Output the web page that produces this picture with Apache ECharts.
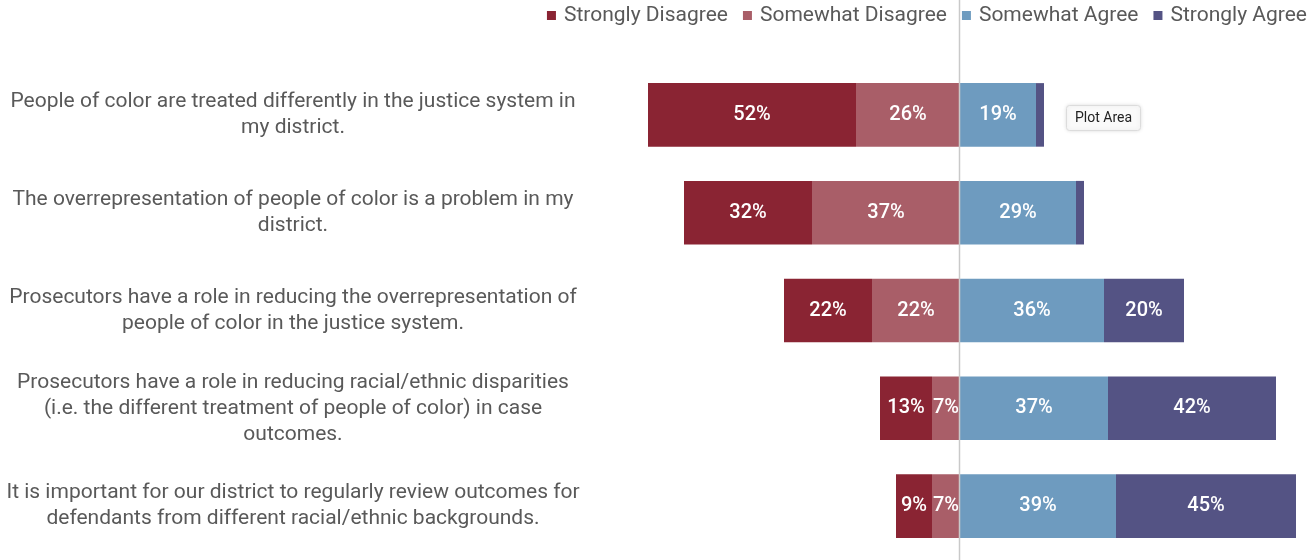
<!DOCTYPE html>
<html>
<head>
<meta charset="utf-8">
<script src="https://cdn.jsdelivr.net/npm/echarts@6/dist/echarts.min.js"></script>
<style>
  html, body { margin: 0; padding: 0; background: #fff; }
  #chart { width: 1314px; height: 560px; }
</style>
</head>
<body>
<div id="chart"></div>
<script>
const categories = [
  'People of color are treated differently in the justice system in\nmy district.',
  'The overrepresentation of people of color is a problem in my\ndistrict.',
  'Prosecutors have a role in reducing the overrepresentation of\npeople of color in the justice system.',
  'Prosecutors have a role in reducing racial/ethnic disparities\n(i.e. the different treatment of people of color) in case\noutcomes.',
  'It is important for our district to regularly review outcomes for\ndefendants from different racial/ethnic backgrounds.'
]
const stronglyDisagree = [52, 32, 22, 13, 9]
const somewhatDisagree = [26, 37, 22, 7, 7]
const somewhatAgree = [19, 29, 36, 37, 39]
const stronglyAgree = [2, 2, 20, 42, 45]

const colors = {
  sd: '#8a2433',
  swd: '#a95e68',
  swa: '#6e9bbf',
  sa: '#545384'
}

const barLabel = {
  show: true,
  color: '#fff',
  fontFamily: 'Roboto',
  fontSize: 20,
  fontWeight: 500,
  formatter: p => Math.abs(p.value) < 5 ? '' : Math.abs(p.value) + '%'
}

const makeSeries = (name, data, color, sign) => ({
  name,
  type: 'bar',
  stack: 'total',
  barCategoryGap: '35%',
  data: data.map(v => v * sign),
  itemStyle: { color },
  label: barLabel,
  emphasis: { disabled: true }
})

const chart = echarts.init(document.getElementById('chart'))

const option = {
  animation: false,
  textStyle: { fontFamily: 'Roboto' },
  legend: {
    data: ['Strongly Disagree', 'Somewhat Disagree', 'Somewhat Agree', 'Strongly Agree'],
    right: 2,
    top: 0,
    icon: 'rect',
    itemWidth: 9,
    itemHeight: 9,
    itemGap: 15,
    textStyle: { color: '#595959', fontSize: 21, fontFamily: 'Roboto', padding: [0, 0, 0, 3] }
  },
  grid: { left: 640, width: 660, top: 66, height: 489 },
  xAxis: {
    type: 'value',
    min: -80,
    max: 85,
    show: false
  },
  yAxis: {
    type: 'category',
    inverse: true,
    data: categories,
    axisLine: { show: false },
    axisTick: { show: false },
    axisLabel: {
      color: '#595959',
      fontSize: 21,
      fontFamily: 'Roboto',
      lineHeight: 26,
      align: 'center',
      margin: 347
    }
  },
  series: [
    makeSeries('Somewhat Disagree', somewhatDisagree, colors.swd, -1),
    makeSeries('Strongly Disagree', stronglyDisagree, colors.sd, -1),
    makeSeries('Somewhat Agree', somewhatAgree, colors.swa, 1),
    makeSeries('Strongly Agree', stronglyAgree, colors.sa, 1)
  ]
}

chart.setOption(option)

const zeroX = Math.round(chart.convertToPixel({ xAxisIndex: 0 }, 0)) - 0.5
chart.setOption({
  graphic: [
    {
      type: 'line',
      z: 10,
      shape: { x1: zeroX, y1: 0, x2: zeroX, y2: 560 },
      style: { stroke: '#c9c9c9', lineWidth: 1.5 }
    },
    {
      type: 'group',
      left: 1066,
      top: 105,
      children: [
        {
          type: 'rect',
          shape: { x: 0, y: 0, width: 74, height: 25, r: 3 },
          style: { fill: '#fafafa', stroke: '#dcdcdc', lineWidth: 1, shadowBlur: 4, shadowColor: 'rgba(0,0,0,0.12)' }
        },
        {
          type: 'text',
          x: 37,
          y: 12.5,
          style: { text: 'Plot Area', fill: '#222', fontSize: 14, fontFamily: 'Roboto', align: 'center', verticalAlign: 'middle' }
        }
      ]
    }
  ]
})
</script>
</body>
</html>
